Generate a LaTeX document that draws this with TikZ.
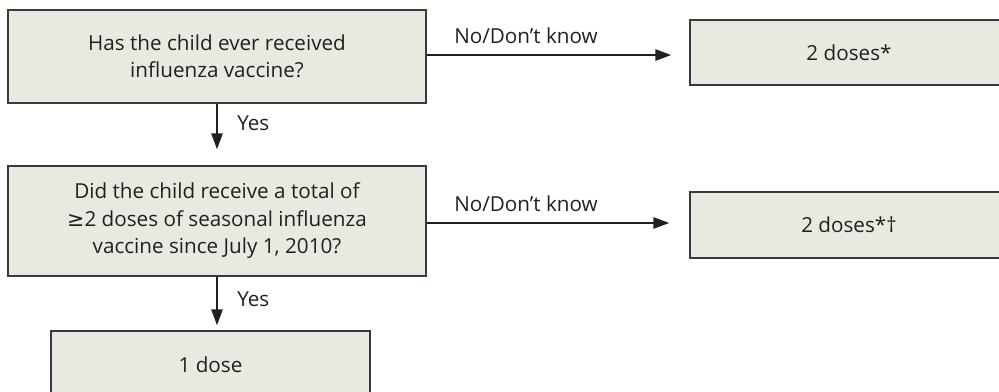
\documentclass[tikz,border=0pt]{standalone}
\usepackage{fontspec}
\setmainfont{Open Sans}
\newfontfamily\symfont{DejaVu Sans}
\usetikzlibrary{arrows.meta}
\definecolor{boxfill}{HTML}{EAE9E1}
\definecolor{boxline}{HTML}{3A3A3A}
\definecolor{ink}{HTML}{231F20}
\begin{document}
\begin{tikzpicture}[x=0.75pt,y=-0.75pt,
  box/.style={draw=boxline, line width=1.1pt, fill=boxfill, align=center, inner sep=0pt,
    font=\fontsize{15.5pt}{20.6pt}\selectfont, text=ink},
  conn/.style={draw=ink, line width=1.5pt, -{Triangle[length=12pt,width=8.5pt]}},
  lab/.style={font=\fontsize{15.5pt}{20.6pt}\selectfont, text=ink, inner sep=0pt}]
\useasboundingbox (0,0) rectangle (999,392);
\clip (0,0) rectangle (999,392);
\node[box, minimum width=418*0.75pt, minimum height=93*0.75pt] (b1) at (217,56.5)
  {Has the child ever received\\influenza vaccine?};
\node[box, minimum width=418*0.75pt, minimum height=110*0.75pt] (b2) at (217,221)
  {Did the child receive a total of\\{\symfont ≥}2 doses of seasonal influenza\\vaccine since July 1, 2010?};
\node[box, minimum width=319*0.75pt, minimum height=68*0.75pt] (b3) at (210.5,365) {1 dose};
\node[box, minimum width=318*0.75pt, minimum height=65*0.75pt] (b4) at (849,52.5) {2 doses*};
\node[box, minimum width=318*0.75pt, minimum height=66*0.75pt] (b5) at (849,225) {2 doses*†};
\draw[conn, shorten >=16*0.75pt] (b1.south) -- (b2.north);
\draw[conn, shorten >=5*0.75pt] (b2.south) -- (b2.south |- b3.north);
\draw[conn, shorten >=18*0.75pt] ([yshift=1.1pt]b1.east) -- ([yshift=1.1pt]b1.east -| b4.west);
\draw[conn, shorten >=20*0.75pt] ([yshift=-1.5pt]b2.east) -- ([yshift=-1.5pt]b2.east -| b5.west);
\node[lab, anchor=west] (y1) at (237,123) {Yes};
\node[lab, anchor=west] (y2) at (237,299) {Yes};
\node[lab, anchor=west] (n1) at (454,36) {No/Don’t know};
\node[lab, anchor=west] (n2) at (454,204) {No/Don’t know};
\end{tikzpicture}
\end{document}
